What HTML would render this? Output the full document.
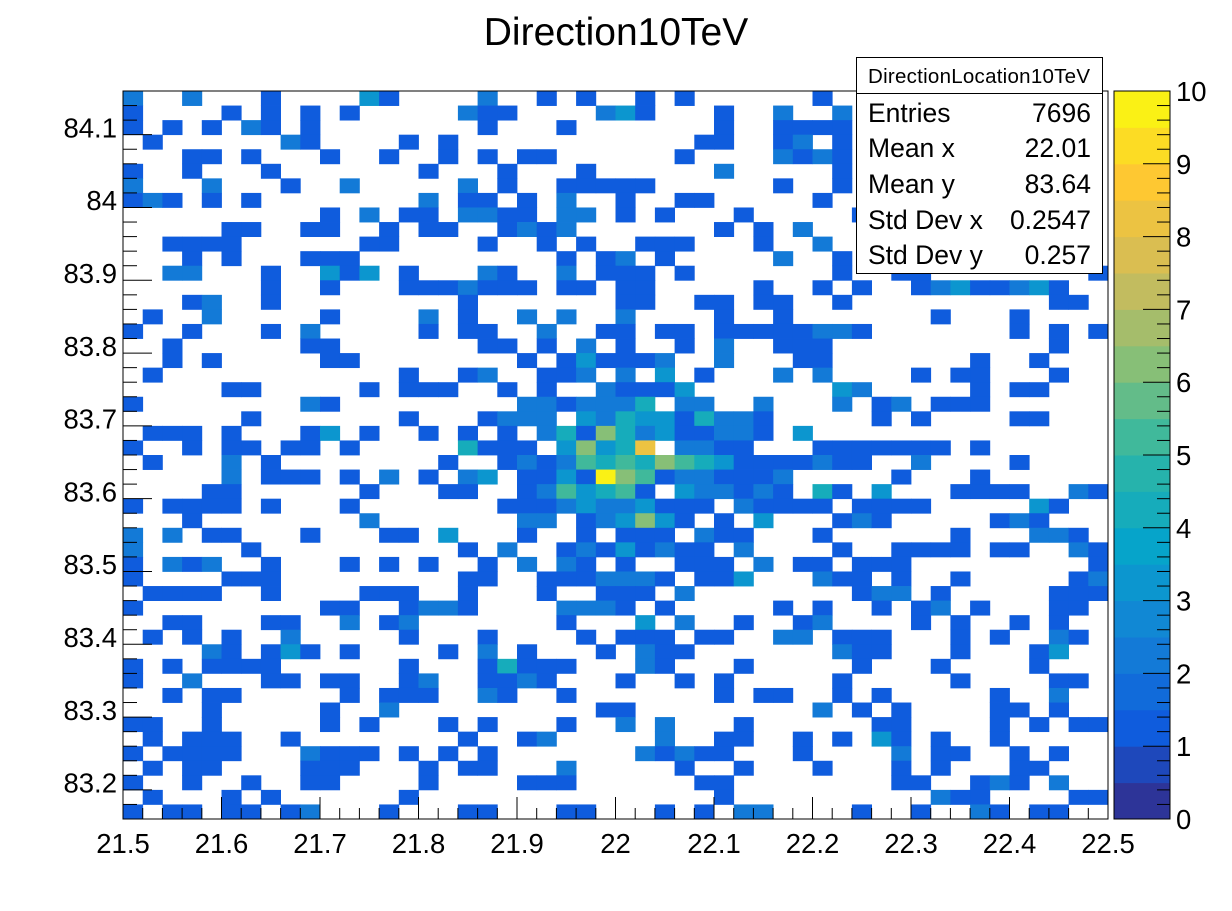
<!DOCTYPE html>
<html><head><meta charset="utf-8"><style>
body{margin:0;background:#fff;}
svg{display:block;font-family:"Liberation Sans",sans-serif;}
</style></head><body>
<svg id="chart" width="1232" height="911" viewBox="0 0 1232 911">
<rect width="1232" height="911" fill="#fff"/>
<text x="616" y="45" font-size="39" text-anchor="middle">Direction10TeV</text>
<g id="cells"></g>
<g id="axes"></g>
<g id="cbar"></g>
<g>
<rect x="856.5" y="57.5" width="246" height="216" fill="#fff" stroke="#000" stroke-width="1"/>
<line x1="856" y1="93.5" x2="1103" y2="93.5" stroke="#000"/>
<text x="868" y="83" font-size="20.5" textLength="222">DirectionLocation10TeV</text>
<g font-size="26.5">
<text x="868" y="122">Entries</text><text x="1091" y="122" text-anchor="end">7696</text>
<text x="868" y="157">Mean x</text><text x="1091" y="157" text-anchor="end">22.01</text>
<text x="868" y="193">Mean y</text><text x="1091" y="193" text-anchor="end">83.64</text>
<text x="868" y="229">Std Dev x</text><text x="1091" y="229" text-anchor="end">0.2547</text>
<text x="868" y="264">Std Dev y</text><text x="1091" y="264" text-anchor="end">0.257</text>
</g></g>
</svg>
<script>
const xMin=21.5, xMax=22.5, yMin=83.15, yMax=84.15, nBinsX=50, nBinsY=50;
const zMax=10;
const xTickLabels=["21.5","21.6","21.7","21.8","21.9","22","22.1","22.2","22.3","22.4","22.5"];
const yTickLabels=["83.2","83.3","83.4","83.5","83.6","83.7","83.8","83.9","84","84.1"];
const zTickLabels=["0","1","2","3","4","5","6","7","8","9","10"];
// bin contents, row 0 = top (highest y); '.'=0, 'A'=10
const binCountsTop=[
"2..2...1....31....2..1.1."+".1.1......1..............",
"1....1.1.1.1.....211....2"+"31...1..2..2.............",
"1.1.1.21.1........1...1.."+".....1..1111.............",
".1......21....1.1........"+"....11..12.1.............",
"...11.1...1..1..1.1.11..."+"...1....2121.............",
"1..1...1.......1...1...1."+".....2.....1.............",
"2...2...1..2.....2.1..111"+"11......1..1.............",
"121.1.1........2.11.1.2.."+"1..11.....1..............",
"..........1.2.11.2211.22."+"1.1...1.....1..........1.",
".....11..11..1.11..1212.."+".....1.1.2...............",
"..1111......11....1..1.1."+".111...1..2..............",
"...1.1...111..........1.1"+"2.1.....2..1.............",
"..22...1..313.1...21..2.1"+"11.1.......1..11........1",
".......1..1...1112111.11."+"11.....1..1.1..12311231..",
"...12..1.........1......."+"11..11.11..1..........11.",
".1..2.....1....2.1..2.2.."+"2....1..1.......1...1....",
"1..1...1.2.....1.11..2..1"+"1.11.11111221.......1.1.1",
"..1......11.......11.1.2."+"1..1.2..111...........1..",
"..1.1.....11........1.131"+"112..2...11.......1..1...",
".1............1..12..112."+"2.3.1...2.2....1.11...1..",
".....11.....1.111..1.1..2"+"1113.......32.....1.11...",
"1........21.........22122"+"24.22..2...2.12.111......",
"......1.......1...1222.32"+"43314221.....1.1....11...",
".111.1...13.1..1.1.1.2416"+"42311221.3...............",
"1..1.11.11.1.....4111.363"+"48.2211...1111111.1......"];
const binCountsBottom=[
".1...2.1........1..121254"+"5465431111211..2....1....",
".....2.111.1.2.1.23.1131A"+"651221112.....1...1......",
"....11......1...11..12534"+"51.322121.41.3...1111..21",
"1.1111.1...1.......111232"+"23111.21111.1111.....31..",
"...1........2.......22.12"+"3631.1.3...121.....121...",
"2.2.11...1...11.3...1..1."+"111.211...1......1...221.",
"2.....1..........1.2..121"+"31211.2....1..1111.11..21",
"1.212..1...1.1.1..1.2.21."+"1..111.2.11.111.........1",
"1....111.........11..1112"+"221.113...211.1..1.....12",
".1111..1....111..1...1..1"+"11.2........122.1.....111",
"1.........11..1221....222"+"1.1.....1.1..1.12.1...11.",
"..11...11..2.12.......1.."+".3.2..1..12....1.1..1.1..",
".1.1.1..2.....1...1....1."+"111.11..22.111...1.1..21.",
"....21.131.1....1.2.1...1"+".211.......211...1...13..",
"1.1.1111......1...14111.."+".21...1.....1...1....1...",
"1..2...11.11..12..1121..."+"1..1.1.....1.....1....11.",
"..1.11.....1.111..21..1.."+".....1.11..1.1.....1..2..",
"....1.....1..2..........1"+"1.........2.1.1....11.1..",
"11..1.....1.1...1.1...1.."+"2.2...1......11....1.1.11",
".1.111..1........1..12..."+"..2..11..1.1.31.1..1.....",
"1.1111...2111.1.1.1......"+".21211...1....2.11..1.1..",
".1.11....111...1.11...2.."+"...1..1...1...1.1...11...",
"1..1..1..11....1....111.."+"....11........11..121.2..",
".1...1.1......1.........."+".....1..........211....11",
"1.11.11.12...1...11...11."+"..1.1.22....1..1..21.11.."];
const binCounts=binCountsTop.concat(binCountsBottom);

const PX0=123, PX1=1108, PY0=91, PY1=819;
const sx=v=>PX0+(v-xMin)/(xMax-xMin)*(PX1-PX0);
const sy=v=>PY1-(v-yMin)/(yMax-yMin)*(PY1-PY0);
const NS="http://www.w3.org/2000/svg";
function mk(t,a,p){const e=document.createElementNS(NS,t);for(const k in a)e.setAttribute(k,a[k]);p.appendChild(e);return e;}
const stops=[[0,[53,42,135]],[0.125,[15,92,221]],[0.25,[20,129,214]],[0.375,[6,164,202]],[0.5,[46,183,164]],[0.625,[135,191,119]],[0.75,[209,187,89]],[0.875,[254,200,50]],[1,[249,251,14]]];
function pal(f){f=Math.max(0,Math.min(1,f));for(let i=1;i<stops.length;i++){if(f<=stops[i][0]){const a=stops[i-1],b=stops[i],t=(f-a[0])/(b[0]-a[0]);return "rgb("+a[1].map((c,k)=>Math.round(c+(b[1][k]-c)*t)).join(",")+")";}}return "rgb(249,251,14)";}
function colorFor(v){const band=Math.min(19,Math.floor(v/zMax*20));return pal((band+0.5)/20);}
const cells=document.getElementById("cells");
const bw=(xMax-xMin)/nBinsX, bh=(yMax-yMin)/nBinsY;
binCounts.forEach((row,r)=>{for(let c=0;c<row.length;c++){const ch=row[c];if(ch==='.')continue;const v=ch==='A'?10:parseInt(ch,10);
const x0=sx(xMin+c*bw),x1=sx(xMin+(c+1)*bw),yTop=sy(yMax-r*bh),yBot=sy(yMax-(r+1)*bh);
const e=mk("rect",{x:x0,y:yTop,width:x1-x0+0.4,height:yBot-yTop+0.4,fill:colorFor(v)},cells);

}});
const ax=document.getElementById("axes");
mk("rect",{x:PX0,y:PY0,width:PX1-PX0,height:PY1-PY0,fill:"none",stroke:"#000","stroke-width":1},ax);
for(let i=0;i<=50;i++){const v=xMin+i*0.02,x=sx(v),major=i%5===0;mk("line",{x1:x,x2:x,y1:PY1,y2:PY1-(major?22:11),stroke:"#000"},ax);}
xTickLabels.forEach(l=>{const t=mk("text",{x:sx(parseFloat(l)),y:853,"font-size":27.5,"text-anchor":"middle"},ax);t.textContent=l;

});
for(let i=0;i<=50;i++){const v=yMin+i*0.02,y=sy(v),major=(i%5)===2;mk("line",{x1:PX0,x2:PX0+(major?29:14),y1:y,y2:y,stroke:"#000"},ax);}
yTickLabels.forEach(l=>{const t=mk("text",{x:117,y:sy(parseFloat(l))+10,"font-size":27.5,"text-anchor":"end"},ax);t.textContent=l;

});
const cb=document.getElementById("cbar");
const CX0=1114,CX1=1170;
for(let i=0;i<20;i++){const y0=PY1-(i+1)*(PY1-PY0)/20;const e=mk("rect",{x:CX0,y:y0,width:CX1-CX0,height:(PY1-PY0)/20+0.5,fill:pal((i+0.5)/20)},cb);

}
mk("rect",{x:CX0,y:PY0,width:CX1-CX0,height:PY1-PY0,fill:"none",stroke:"#000","stroke-width":1},cb);
zTickLabels.forEach(l=>{const v=parseFloat(l),y=PY1-v/zMax*(PY1-PY0);mk("line",{x1:CX1-27,x2:CX1,y1:y,y2:y,stroke:"#000"},cb);
for(let m=1;m<5&&v<zMax;m++){const ym=y-m*(PY1-PY0)/zMax/5;mk("line",{x1:CX1-13,x2:CX1,y1:ym,y2:ym,stroke:"#000"},cb);}
const t=mk("text",{x:1176,y:y+10,"font-size":27.5},cb);t.textContent=l;

});
</script>
</body></html>
